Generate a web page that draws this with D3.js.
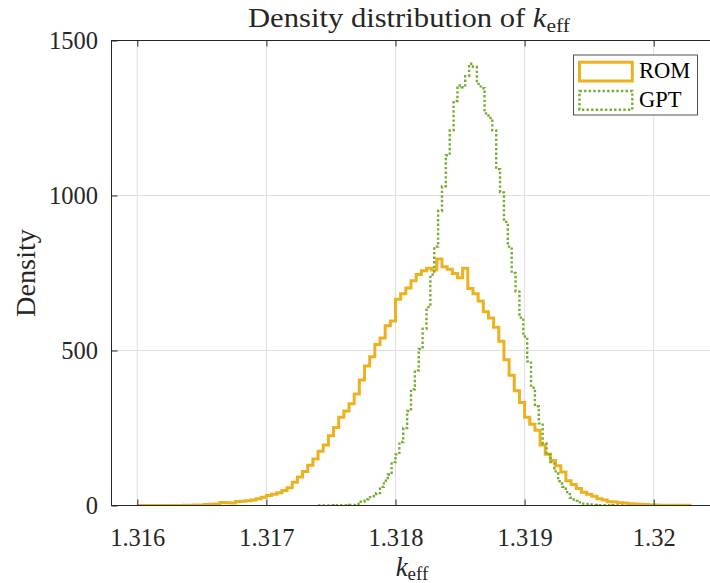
<!DOCTYPE html>
<html><head><meta charset="utf-8">
<script src="https://cdn.jsdelivr.net/npm/d3@7"></script>
<style>body{margin:0;background:#fff}</style>
</head><body>
<svg id="chart" width="710" height="583"></svg>
<script>
// ---- data ----
const seriesNames = ["ROM", "GPT"];
const romStart = 1.316, romBinWidth = 0.00004;
const romValues = [0,0,0,0,0,0,0,0,0,1,
 1,2,2,3,4,5,10,9,8,13,
 14,15,18,22,27,32,36,41,48,57,
 75,92,110,130,150,175,195,225,252,285,
 305,328,360,405,450,480,519,540,580,595,
 665,683,702,725,745,757,765,760,795,770,
 762,748,735,765,700,683,660,625,605,575,
 530,470,420,370,332,285,262,243,195,165,
 145,128,108,80,68,55,43,36,30,22,
 18,12,11,9,8,6,5,4,3,2,
 2,1,1,1,1,1,1];
const gptStart = 1.3174, gptBinWidth = 0.00003;
const gptValues = [0,0,0,1,0,1,1,1,2,2,
 5,12,20,27,30,40,60,80,100,140,
 165,205,250,305,375,436,505,570,640,745,
 835,950,1030,1130,1210,1305,1355,1349,1385,1425,
 1415,1360,1346,1265,1250,1210,1085,1010,915,835,
 750,690,606,545,465,380,320,265,200,165,
 140,110,78,60,43,25,15,10,6,5,
 3,2,1,1,1,0,1,0,0];
const xTicks = [1.316, 1.317, 1.318, 1.319, 1.32];
const xTickLabels = ["1.316", "1.317", "1.318", "1.319", "1.32"];
const yTicks = [0, 500, 1000, 1500];
const yTickLabels = ["0", "500", "1000", "1500"];

// ---- layout ----
const W = 710, H = 583;
const L = 111.5, R = 716, T = 40.5, B = 505.5;
const colors = {ROM: "#EDB120", GPT: "#77AC30"};
const axisColor = "#262626", gridColor = "#dfdfdf";
const font = "'Liberation Serif', 'Times New Roman', serif";

const svg = d3.select("#chart");
const x = d3.scaleLinear().domain([1.316, 1.32]).range([137.3, 653.7]);
const y = d3.scaleLinear().domain([0, 1500]).range([B, T]);

svg.append("rect").attr("width", W).attr("height", H).attr("fill", "#fff");

// grid
const grid = svg.append("g");
grid.selectAll(".gx").data(xTicks).join("line")
  .attr("x1", d => x(d)).attr("x2", d => x(d)).attr("y1", T).attr("y2", B)
  .attr("stroke", gridColor).attr("stroke-width", 1);
grid.selectAll(".gy").data(yTicks).join("line")
  .attr("x1", L).attr("x2", R).attr("y1", d => y(d)).attr("y2", d => y(d))
  .attr("stroke", gridColor).attr("stroke-width", 1);

// stairs
function stairs(start, width, values) {
  const pts = [[x(start), y(0)]];
  values.forEach((v, i) => {
    pts.push([x(start + i * width), y(v)]);
    pts.push([x(start + (i + 1) * width), y(v)]);
  });
  pts.push([x(start + values.length * width), y(0)]);
  return d3.line()(pts);
}
svg.append("defs").append("clipPath").attr("id", "clip")
  .append("rect").attr("x", L).attr("y", T).attr("width", R - L).attr("height", B - T);
const plot = svg.append("g").attr("clip-path", "url(#clip)");
plot.append("path").attr("d", stairs(romStart, romBinWidth, romValues))
  .attr("fill", "none").attr("stroke", colors.ROM).attr("stroke-width", 3)
  .attr("stroke-linejoin", "miter");
plot.append("path").attr("d", stairs(gptStart, gptBinWidth, gptValues))
  .attr("fill", "none").attr("stroke", colors.GPT).attr("stroke-width", 2.4)
  .attr("stroke-dasharray", "2.4 2.2");

// axes
const xAxisB = d3.axisBottom(x).tickValues(xTicks).tickFormat((d, i) => xTickLabels[i])
  .tickSizeInner(-6).tickSizeOuter(0);
const gxb = svg.append("g").attr("transform", `translate(0,${B})`).call(xAxisB);
const xAxisT = d3.axisTop(x).tickValues(xTicks).tickFormat("").tickSizeInner(-6).tickSizeOuter(0);
const gxt = svg.append("g").attr("transform", `translate(0,${T})`).call(xAxisT);
const yAxisL = d3.axisLeft(y).tickValues(yTicks).tickFormat((d, i) => yTickLabels[i])
  .tickSizeInner(-6).tickSizeOuter(0).tickPadding(13.5);
const gyl = svg.append("g").attr("transform", `translate(${L},0)`).call(yAxisL);
[gxb, gxt, gyl].forEach(g => {
  g.select(".domain").remove();
  g.selectAll("line").attr("stroke", axisColor);
  g.selectAll("text").attr("fill", axisColor).style("font-family", font).style("font-size", "24.5px");
});
gxb.selectAll("text").attr("dy", null).attr("y", 40.5);
gyl.selectAll("text").attr("dy", "0.34em");

// frame
svg.append("rect").attr("x", L).attr("y", T).attr("width", R - L).attr("height", B - T)
  .attr("fill", "none").attr("stroke", axisColor).attr("stroke-width", 1);

// title
const title = svg.append("text").attr("x", 409).attr("y", 27).attr("text-anchor", "middle")
  .attr("textLength", 322).attr("lengthAdjust", "spacingAndGlyphs")
  .attr("fill", axisColor).style("font-family", font).style("font-size", "27px");
title.append("tspan").text("Density distribution of ");
title.append("tspan").attr("font-style", "italic").text("k");
title.append("tspan").attr("dy", 5).style("font-size", "19px").text("eff");

// x label
const xl = svg.append("text").attr("x", 412).attr("y", 576).attr("text-anchor", "middle")
  .attr("fill", axisColor).style("font-family", font).style("font-size", "27px");
xl.append("tspan").attr("font-style", "italic").text("k");
xl.append("tspan").attr("dy", 4).style("font-size", "19px").text("eff");

// y label
svg.append("text").attr("transform", "translate(35,273) rotate(-90)").attr("text-anchor", "middle")
  .attr("textLength", 88).attr("lengthAdjust", "spacingAndGlyphs")
  .attr("fill", axisColor).style("font-family", font).style("font-size", "27px").text("Density");

// legend
const lg = svg.append("g");
lg.append("rect").attr("x", 573.5).attr("y", 55).attr("width", 124).attr("height", 60)
  .attr("fill", "#fff").attr("stroke", axisColor).attr("stroke-width", 0.8);
const items = lg.selectAll(".item").data(seriesNames).join("g")
  .attr("transform", (d, i) => `translate(0,${i * 28.8})`);
items.append("rect").attr("x", 579.5).attr("y", 62.2).attr("width", 52.8).attr("height", 18.8)
  .attr("fill", "none").attr("stroke", d => colors[d])
  .attr("stroke-width", d => d === "ROM" ? 3 : 2.4)
  .attr("stroke-dasharray", d => d === "ROM" ? null : "2.4 2.2");
items.append("text").attr("x", 639).attr("y", 78).attr("fill", "#000")
  .style("font-family", font).style("font-size", "22.5px").text(d => d);
</script>
</body></html>
